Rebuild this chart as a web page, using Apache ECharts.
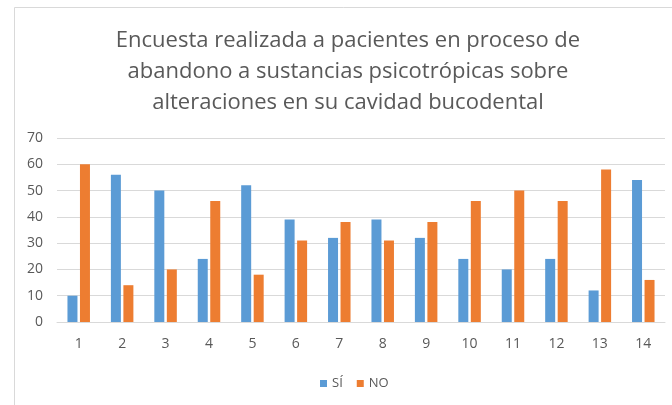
<!DOCTYPE html>
<html>
<head>
<meta charset="utf-8">
<script src="https://cdn.jsdelivr.net/npm/echarts@6/dist/echarts.min.js"></script>
<style>
html,body{margin:0;padding:0;background:#fff;}
#chart{width:672px;height:405px;}
</style>
</head>
<body>
<div id="chart"></div>
<script>
const categories = ['1','2','3','4','5','6','7','8','9','10','11','12','13','14'];
const siValues = [10, 56, 50, 24, 52, 39, 32, 39, 32, 24, 20, 24, 12, 54];
const noValues = [60, 14, 20, 46, 18, 31, 38, 31, 38, 46, 50, 46, 58, 16];
const yTicks = [0, 10, 20, 30, 40, 50, 60, 70];
const titleText = 'Encuesta realizada a pacientes en proceso de\nabandono a sustancias psicotrópicas sobre\nalteraciones en su cavidad bucodental';

const chart = echarts.init(document.getElementById('chart'), null, {renderer: 'canvas'});
const font = '"Open Sans", "Liberation Sans", sans-serif';
chart.setOption({
  animation: false,
  backgroundColor: '#ffffff',
  graphic: [{
    type: 'rect', left: 12, top: 5,
    shape: {width: 700, height: 398},
    style: {fill: 'none', stroke: '#d9d9d9', lineWidth: 1}
  }],
  title: {
    text: titleText,
    left: 343, top: 20, textAlign: 'center',
    textStyle: {fontFamily: font, fontSize: 22, fontWeight: 'normal', color: '#595959', lineHeight: 31}
  },
  legend: {
    data: ['SÍ', 'NO'],
    left: 315, top: 372,
    itemWidth: 7, itemHeight: 7, itemGap: 14,
    icon: 'rect',
    textStyle: {fontFamily: font, fontSize: 13, color: '#595959'}
  },
  grid: {left: 57, top: 138, width: 608, height: 184, containLabel: false},
  xAxis: {
    type: 'category', data: categories,
    axisLine: {lineStyle: {color: '#d9d9d9'}},
    axisTick: {show: false},
    axisLabel: {fontFamily: font, fontSize: 14, color: '#595959', margin: 15}
  },
  yAxis: {
    type: 'value', min: yTicks[0], max: yTicks[yTicks.length - 1], interval: 10,
    axisLine: {show: false}, axisTick: {show: false},
    splitLine: {lineStyle: {color: '#d9d9d9'}},
    axisLabel: {fontFamily: font, fontSize: 14, color: '#595959', margin: 14}
  },
  series: [
    {name: 'SÍ', type: 'bar', data: siValues, barWidth: 10, barGap: '25%', itemStyle: {color: '#5B9BD5'}},
    {name: 'NO', type: 'bar', data: noValues, barWidth: 10, barGap: '25%', itemStyle: {color: '#ED7D31'}}
  ]
});
</script>
</body>
</html>
